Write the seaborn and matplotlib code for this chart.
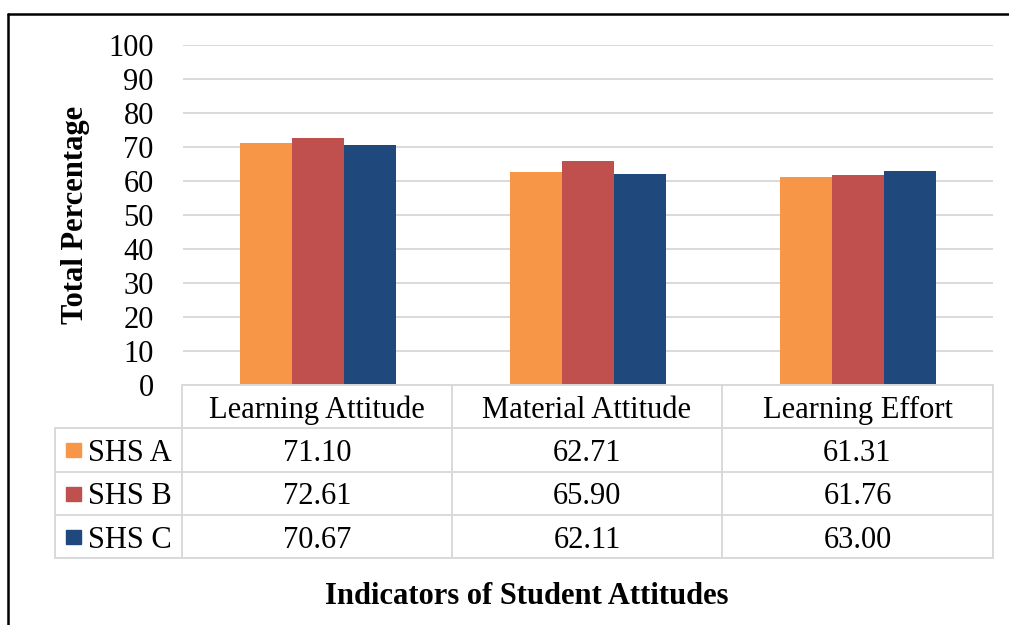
import pandas as pd
import matplotlib
matplotlib.use("Agg")
import matplotlib.pyplot as plt
import seaborn as sns
from matplotlib.lines import Line2D
from matplotlib.patches import Rectangle

# data
categories = ["Learning Attitude", "Material Attitude", "Learning Effort"]
schools = ["SHS A", "SHS B", "SHS C"]
shs_a = [71.10, 62.71, 61.31]
shs_b = [72.61, 65.90, 61.76]
shs_c = [70.67, 62.11, 63.00]
colors = ["#F79646", "#C0504D", "#1F497D"]
yticks = [0, 10, 20, 30, 40, 50, 60, 70, 80, 90, 100]

values = [shs_a, shs_b, shs_c]
rows = []
for school, vals in zip(schools, values):
    for cat, v in zip(categories, vals):
        rows.append({"category": cat, "school": school, "value": v})
df = pd.DataFrame(rows)

sns.set_style("white")
plt.rcParams["font.family"] = ["Liberation Serif", "DejaVu Serif"]
plt.rcParams["text.color"] = "black"
plt.rcParams["ytick.color"] = "black"

W, H = 1009, 625
fig = plt.figure(figsize=(W / 100, H / 100), dpi=100)


def fx(px):
    return px / W


def fy(py):
    return 1 - py / H


# plot area (pixel bounds from the reference)
left, right, top, bottom = 183, 993, 45, 385
ax = fig.add_axes([fx(left), fy(bottom), fx(right - left), (bottom - top) / H])
sns.barplot(data=df, x="category", y="value", hue="school", order=categories,
            hue_order=schools, palette=colors, width=0.58, gap=0,
            saturation=1, legend=False, linewidth=0, ax=ax)
ax.set_ylim(0, 100)
ax.set_xlim(-0.5, len(categories) - 0.5)
ax.set_yticks(yticks)
ax.set_yticklabels([str(t) for t in yticks], fontsize=22, color="black")
ax.tick_params(axis="y", length=0, pad=21)
ax.set_xticks([])
ax.set_xlabel("")
ax.set_ylabel("")
for s in ax.spines.values():
    s.set_visible(False)
ax.yaxis.grid(True, color="#d9d9d9", linewidth=1.4)
ax.set_axisbelow(True)

# data table under the chart
grid_c = "#d9d9d9"
col_x = [55, 182, 452, 722, 993]
row_y = [385, 428, 472, 515, 558]


def hline(y, x0, x1):
    fig.add_artist(Line2D([fx(x0), fx(x1)], [fy(y), fy(y)], color=grid_c, lw=1.4))


def vline(x, y0, y1):
    fig.add_artist(Line2D([fx(x), fx(x)], [fy(y0), fy(y1)], color=grid_c, lw=1.4))


hline(row_y[0], col_x[1], col_x[-1])
for y in row_y[1:]:
    hline(y, col_x[0], col_x[-1])
vline(col_x[0], row_y[1], row_y[-1])
for x in col_x[1:]:
    vline(x, row_y[0], row_y[-1])

for i, cat in enumerate(categories):
    cx = (col_x[i + 1] + col_x[i + 2]) / 2
    cy = (row_y[0] + row_y[1]) / 2
    fig.text(fx(cx), fy(cy), cat, ha="center", va="center_baseline", fontsize=22)

for r, (school, vals, c) in enumerate(zip(schools, values, colors)):
    cy = (row_y[r + 1] + row_y[r + 2]) / 2
    fig.add_artist(Rectangle((fx(66), fy(cy + 7)), fx(15), 14 / H, color=c,
                             transform=fig.transFigure))
    fig.text(fx(88), fy(cy), school, ha="left", va="center_baseline", fontsize=22)
    for i, v in enumerate(vals):
        cx = (col_x[i + 1] + col_x[i + 2]) / 2
        fig.text(fx(cx), fy(cy), f"{v:.2f}", ha="center", va="center_baseline",
                 fontsize=22)

# axis titles
fig.text(fx(75), fy((top + bottom) / 2), "Total Percentage", rotation=90,
         ha="center", va="center", fontsize=22, fontweight="bold")
fig.text(fx(527), fy(597), "Indicators of Student Attitudes", ha="center",
         va="center", fontsize=22, fontweight="bold")

# outer frame (top and left edges only)
fig.add_artist(Line2D([fx(7.5), 1], [fy(13.5), fy(13.5)], color="black", lw=1.8))
fig.add_artist(Line2D([fx(7.5), fx(7.5)], [fy(13.5), 0], color="black", lw=1.8))

fig.savefig("out.png", dpi=100)
